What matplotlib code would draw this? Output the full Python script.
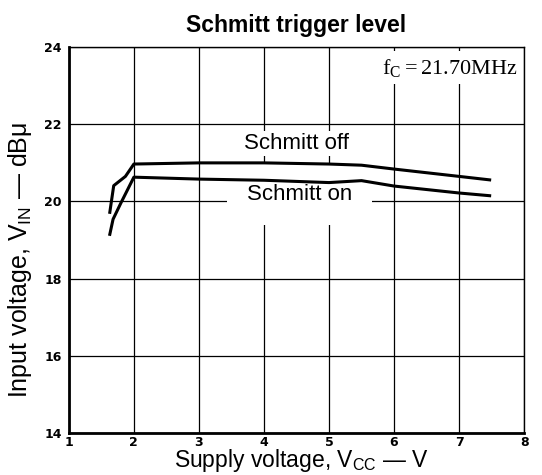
import matplotlib
matplotlib.use("Agg")
import matplotlib.pyplot as plt

# ── Data ──
vcc_off = [1.63, 1.69, 1.87, 2.0, 3.0, 4.0, 5.0, 5.5, 6.0, 7.0, 7.47]
vin_off = [19.72, 20.41, 20.65, 20.97, 21.0, 21.0, 20.97, 20.94, 20.84, 20.65, 20.56]
vcc_on  = [1.63, 1.68, 1.80, 2.0, 3.0, 4.0, 5.0, 5.5, 6.0, 7.0, 7.47]
vin_on  = [19.15, 19.54, 19.96, 20.63, 20.58, 20.55, 20.49, 20.54, 20.4, 20.22, 20.15]
xticks  = [1, 2, 3, 4, 5, 6, 7, 8]
yticks  = [14, 16, 18, 20, 22, 24]

plt.rcParams['font.family'] = ['Liberation Sans', 'DejaVu Sans']
plt.rcParams['mathtext.fontset'] = 'custom'
plt.rcParams['mathtext.rm'] = 'Liberation Serif'
plt.rcParams['mathtext.sf'] = 'Liberation Sans'
plt.rcParams['mathtext.it'] = 'Liberation Sans:italic'

fig = plt.figure(figsize=(5.42, 4.75), dpi=100)
ax = fig.add_axes([0.127, 0.088, 0.840, 0.813])

ax.plot(vcc_off, vin_off, color='black', lw=2.2, zorder=5)
ax.plot(vcc_on,  vin_on,  color='black', lw=2.2, zorder=5)

ax.set_xlim(1, 8); ax.set_ylim(14, 24)
ax.set_xticks(xticks); ax.set_yticks(yticks)
ax.set_axisbelow(True)
ax.grid(True, color='black', lw=0.9)
ax.tick_params(axis='x', length=0, pad=2)
ax.tick_params(axis='y', length=0, pad=5)
for lab in ax.get_xticklabels() + ax.get_yticklabels():
    lab.set_fontfamily('DejaVu Sans'); lab.set_fontweight('bold'); lab.set_fontsize(9)

for s in ['left', 'bottom']: ax.spines[s].set_linewidth(2.0)
for s in ['top', 'right']:   ax.spines[s].set_linewidth(1.0)

ax.text(4.5, 21.5, 'Schmitt off', fontsize=16, ha='center', va='center', zorder=3,
        bbox=dict(boxstyle='square,pad=0.1', fc='white', ec='none'))
ax.text(4.55, 20.17, 'Schmitt on', fontsize=16, ha='center', va='center', zorder=3,
        bbox=dict(boxstyle='square,pad=0.9', fc='white', ec='none'))
ax.text(0.985, 0.975, r'$\mathrm{f_C=21.70MHz}$', transform=ax.transAxes, fontsize=16,
        ha='right', va='top', bbox=dict(boxstyle='square,pad=0.25', fc='white', ec='none'), zorder=3)

ax.set_title('Schmitt trigger level', fontsize=16.5, fontweight='bold', pad=10.5)
ax.set_xlabel(r'Supply voltage, V$_{\mathsf{CC}}$ — V', fontsize=16.5)
ax.set_ylabel(r'Input voltage, V$_{\mathsf{IN}}$ — dBμ', fontsize=18)
ax.xaxis.set_label_coords(0.51, -0.037)
ax.xaxis.label.set_verticalalignment('top')
ax.yaxis.set_label_coords(-0.077, 0.45)

fig.savefig('out.png', dpi=100)
